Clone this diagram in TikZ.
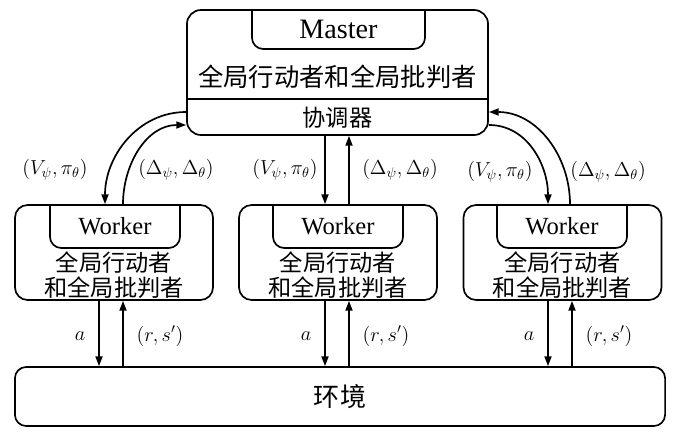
\documentclass[tikz,border=0pt]{standalone}
\usepackage{fontspec}
\setmainfont{Liberation Serif}
\newfontfamily\tnr{Liberation Serif}
\newfontfamily\cjk{Noto Sans CJK SC}
\usetikzlibrary{arrows.meta,positioning}

\begin{document}
\begin{tikzpicture}[
    x=0.025cm, y=-0.025cm,
    box/.style={
        draw,
        line width=1.2pt,
        rounded corners=9pt,
        inner sep=0pt,
    },
    wbox/.style={box, minimum width=4.95cm, minimum height=2.375cm},
    wtab/.style={
        inner sep=0pt, outer sep=0pt,
        minimum width=3.25cm,
        minimum height=1.075cm,
        font=\tnr\fontsize{17.5}{20}\selectfont,
    },
    tabline/.style={line width=1.2pt, rounded corners=8pt},
    wtext/.style={
        align=center, inner sep=0pt,
        font=\cjk\fontsize{16.5}{17.5}\selectfont,
    },
    lbl/.style={inner sep=0pt, font=\fontsize{14}{16}\selectfont},
    arr/.style={line width=1.2pt, -{Triangle[length=7pt,width=5pt]}},
]
\useasboundingbox (0,0) rectangle (681,433);

% master
\node[box, rounded corners=10pt, minimum width=7.525cm, minimum height=3.125cm] (master) at (337.5,72.5) {};
\node[wtab, minimum width=4.325cm, minimum height=0.975cm, font=\tnr\fontsize{20}{24}\selectfont] (mtab) at (338.5,29.5) {Master};
\draw[tabline] (mtab.north west) -- (mtab.south west) -- (mtab.south east) -- (mtab.north east);
\draw[line width=1.2pt] (master.west |- 0,99) -- (master.east |- 0,99);
\node[wtext, font=\cjk\fontsize{18}{20}\selectfont] (mtext) at (337.5,77) {全局行动者和全局批判者};
\node[wtext, font=\cjk\fontsize{16.5}{18}\selectfont] (coord) at (337.5,118) {协调器};

% workers
\node[wbox] (wl) at (114,252.5) {};
\node[wbox] (wm) at (338,252.5) {};
\node[wbox] (wr) at (562.5,252.5) {};

\node[wtab] (wltab) at (115,226.5) {Worker};
\node[wtab] (wmtab) at (338,226.5) {Worker};
\node[wtab] (wrtab) at (562,226.5) {Worker};
\draw[tabline] (wltab.north west) -- (wltab.south west) -- (wltab.south east) -- (wltab.north east);
\draw[tabline] (wmtab.north west) -- (wmtab.south west) -- (wmtab.south east) -- (wmtab.north east);
\draw[tabline] (wrtab.north west) -- (wrtab.south west) -- (wrtab.south east) -- (wrtab.north east);

\node[wtext] (wltext) at (114,275) {全局行动者\\和全局批判者};
\node[wtext] (wmtext) at (338,275) {全局行动者\\和全局批判者};
\node[wtext] (wrtext) at (562.5,275) {全局行动者\\和全局批判者};

% environment
\node[box, rounded corners=8pt, minimum width=16.25cm, minimum height=1.475cm,
      font=\cjk\fontsize{18.5}{20}\selectfont] (env) at (340,396.5) {环境};

% master <-> workers
\draw[arr] (master.west |- 0,112) to[out=180,in=90] (wl.north -| 105,0);
\draw[arr] (wl.north -| 123,0) to[out=90,in=180] (master.west |- 0,125);
\draw[arr] (master.south -| 325,0) -- (wm.north -| 325,0);
\draw[arr] (wm.north -| 349,0) -- (master.south -| 349,0);
\draw[arr] (master.east |- 0,125) to[out=0,in=90] (wr.north -| 548,0);
\draw[arr] (wr.north -| 570,0) to[out=90,in=0] (master.east |- 0,112);

\node[lbl] (vl) at (55,170) {$(V_\psi,\pi_\theta)$};
\node[lbl] (dl) at (176,170) {$(\Delta_\psi,\Delta_\theta)$};
\node[lbl] (vm) at (285,170) {$(V_\psi,\pi_\theta)$};
\node[lbl] (dm) at (400,170) {$(\Delta_\psi,\Delta_\theta)$};
\node[lbl] (vr) at (500,172) {$(V_\psi,\pi_\theta)$};
\node[lbl] (dr) at (608,172) {$(\Delta_\psi,\Delta_\theta)$};

% workers <-> environment
\draw[arr] (wl.south -| 99,0) -- (env.north -| 99,0);
\draw[arr] (env.north -| 123,0) -- (wl.south -| 123,0);
\draw[arr] (wm.south -| 325,0) -- (env.north -| 325,0);
\draw[arr] (env.north -| 349,0) -- (wm.south -| 349,0);
\draw[arr] (wr.south -| 548,0) -- (env.north -| 548,0);
\draw[arr] (env.north -| 572,0) -- (wr.south -| 572,0);

\node[lbl] (al) at (80,336) {$a$};
\node[lbl] (rl) at (160,336) {$(r,s')$};
\node[lbl] (am) at (306,336) {$a$};
\node[lbl] (rm) at (386,336) {$(r,s')$};
\node[lbl] (ar) at (529,336) {$a$};
\node[lbl] (rr) at (609,336) {$(r,s')$};

\end{tikzpicture}
\end{document}
